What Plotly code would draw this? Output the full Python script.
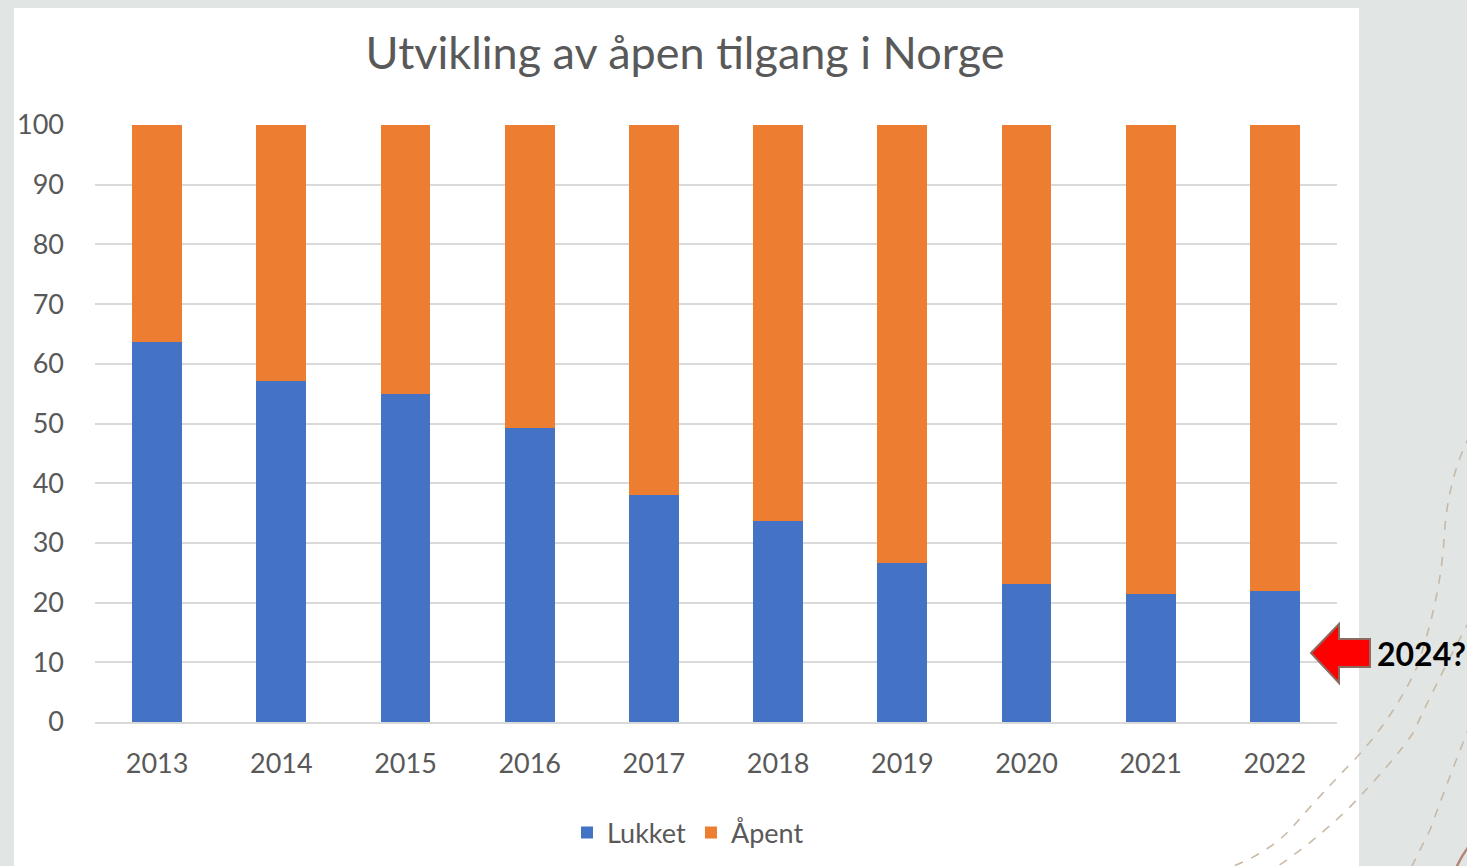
import plotly.graph_objects as go

years = ["2013", "2014", "2015", "2016", "2017", "2018", "2019", "2020", "2021", "2022"]
lukket = [63.6, 57.1, 55.0, 49.3, 38.0, 33.6, 26.7, 23.2, 21.5, 22.0]
apent = [36.4, 42.9, 45.0, 50.7, 62.0, 66.4, 73.3, 76.8, 78.5, 78.0]
y_ticks = [0, 10, 20, 30, 40, 50, 60, 70, 80, 90, 100]

W, H = 1467, 866
L, R, T, B = 95, 1337, 125, 722  # plot area in pixels


def px(x):
    return (x - L) / (R - L)


def py(y):
    return (B - y) / (B - T)


FONT = "Lato, 'Open Sans', sans-serif"
GREY_TXT = "#595959"

fig = go.Figure()
fig.add_trace(go.Bar(x=years, y=lukket, name="Lukket", marker=dict(color="#4472c4", line=dict(width=0))))
fig.add_trace(go.Bar(x=years, y=apent, name="Åpent", marker=dict(color="#ed7d31", line=dict(width=0))))

shapes = []
# white slide panel
shapes.append(dict(type="rect", xref="paper", yref="paper", x0=px(14), x1=px(1359), y0=py(880), y1=py(8),
                   fillcolor="white", line=dict(width=0), layer="below"))


def path_from(points):
    s = "M %f,%f" % (px(points[0][0]), py(points[0][1]))
    pts = points[1:]
    for i in range(0, len(pts) - 1, 2):
        c = pts[i]
        e = pts[i + 1]
        s += " Q %f,%f %f,%f" % (px(c[0]), py(c[1]), px(e[0]), py(e[1]))
    return s


# decorative dashed curves
curveA = [(1470, 435), (1447, 480), (1444, 540), (1440, 600), (1417, 667), (1395, 715), (1357, 757),
          (1320, 795), (1290, 830), (1265, 855), (1228, 868)]
curveB = [(1470, 620), (1445, 665), (1413, 733), (1395, 760), (1347, 810), (1310, 845), (1275, 868)]
curveC = [(1470, 725), (1452, 770), (1430, 830), (1420, 850), (1411, 868)]
for c in (curveA, curveB, curveC):
    shapes.append(dict(type="path", xref="paper", yref="paper", path=path_from(c),
                       line=dict(color="rgba(196,180,158,0.9)", width=1.6, dash="dash"), layer="above"))
shapes.append(dict(type="path", xref="paper", yref="paper",
                   path=path_from([(1470, 845), (1462, 855), (1456, 868)]),
                   line=dict(color="#b58676", width=2.5), layer="above"))

# red arrow
arrow = [(1311, 653), (1339, 624), (1339, 639), (1370, 639), (1370, 667), (1339, 667), (1339, 683)]
apath = "M " + " L ".join("%f,%f" % (px(x), py(y)) for x, y in arrow) + " Z"
shapes.append(dict(type="path", xref="paper", yref="paper", path=apath, fillcolor="#ff0000",
                   line=dict(color="#8c6a5f", width=2), layer="above"))

fig.update_layout(
    width=W, height=H,
    margin=dict(l=L, r=W - R, t=T, b=H - B, pad=0, autoexpand=False),
    paper_bgcolor="#e1e6e5",
    plot_bgcolor="rgba(0,0,0,0)",
    barmode="stack",
    bargap=0.6,
    font=dict(family=FONT, color=GREY_TXT, size=27),
    title=dict(text="Utvikling av åpen tilgang i Norge", xref="container", yref="container",
               x=685 / W, y=1 - 53 / H, xanchor="center", yanchor="middle",
               font=dict(family=FONT, size=45, color=GREY_TXT)),
    xaxis=dict(type="category", showgrid=False, showline=True, linecolor="#d9d9d9", linewidth=1.5,
               ticks="", ticklabelstandoff=17, tickfont=dict(size=27, color=GREY_TXT), automargin=False),
    yaxis=dict(range=[0, 100], tickvals=y_ticks, showgrid=True, gridcolor="#d9d9d9", gridwidth=1.5,
               zeroline=False, showline=False, ticks="", ticklabelstandoff=30,
               tickfont=dict(size=27, color=GREY_TXT), automargin=False),
    legend=dict(orientation="h", x=px(688), y=py(833), xanchor="center", yanchor="middle",
                font=dict(size=27, color=GREY_TXT), bgcolor="rgba(0,0,0,0)", itemwidth=30,
                traceorder="normal"),
    shapes=shapes,
    annotations=[dict(text="<b>2024?</b>", xref="paper", yref="paper", x=px(1375), y=py(653),
                      xanchor="left", yanchor="middle", showarrow=False,
                      font=dict(family=FONT, size=32, color="black"))],
    showlegend=True,
)

fig.write_html("out.html", config={"displayModeBar": False},
               post_script="document.body.style.margin='0';")
